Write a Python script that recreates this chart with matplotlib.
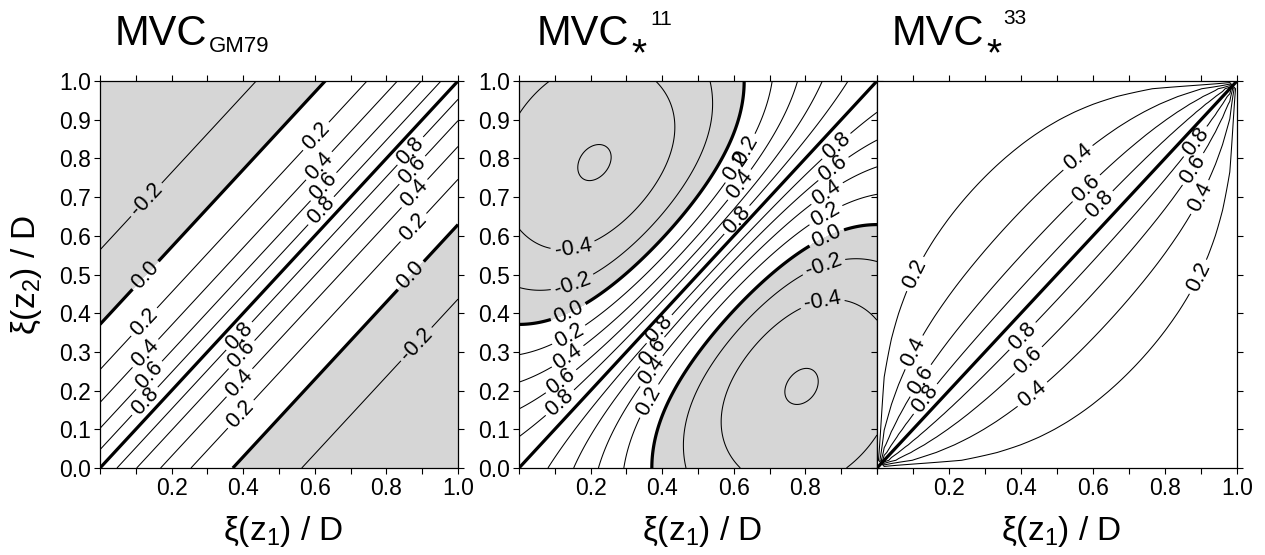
import numpy as np
import matplotlib
matplotlib.use('Agg')
import matplotlib.pyplot as plt

plt.rcParams['font.family'] = ['Liberation Sans', 'DejaVu Sans']
plt.rcParams['mathtext.fontset'] = 'custom'
plt.rcParams['mathtext.rm'] = 'Liberation Sans'
plt.rcParams['mathtext.it'] = 'Liberation Sans'
plt.rcParams['contour.negative_linestyle'] = 'solid'

# ---------------- data ----------------
n_modes = 400                     # number of vertical modes in the sums
j_star = 1.0                      # mode-spectrum bandwidth
levels_gm = [-0.2, 0.0, 0.2, 0.4, 0.6, 0.8]
levels_11 = [-0.58, -0.4, -0.2, 0.0, 0.2, 0.4, 0.6, 0.8]
levels_33 = [0.2, 0.4, 0.6, 0.8]
tick_values = [0.0, 0.1, 0.2, 0.3, 0.4, 0.5, 0.6, 0.7, 0.8, 0.9, 1.0]
xlabels_p1 = ['', '', '0.2', '', '0.4', '', '0.6', '', '0.8', '', '1.0']
xlabels_p2 = ['', '', '0.2', '', '0.4', '', '0.6', '', '0.8', '', '']
ylabels = ['0.0', '0.1', '0.2', '0.3', '0.4', '0.5', '0.6', '0.7', '0.8', '0.9', '1.0']

# ---------------- fields ----------------
n_grid = 401
xi = np.linspace(0.0, 1.0, n_grid)
xi3 = np.linspace(0.0, 1.0, 51)
modes = np.arange(1, n_modes + 1)
H = 1.0 / (modes ** 2 + j_star ** 2)
jj = modes[:, None]

# GM79: depends on separation only; evaluate on all grid separations
lag = np.arange(-(n_grid - 1), n_grid) / (n_grid - 1)
g = (H[:, None] * np.cos(jj * np.pi * lag[None, :])).sum(axis=0) / H.sum()
idx = np.arange(n_grid)
C_gm = g[idx[None, :] - idx[:, None] + (n_grid - 1)]

phi_c = np.cos(jj * np.pi * xi[None, :])
N11 = (phi_c * H[:, None]).T @ phi_c
d11 = np.sqrt(np.diag(N11))
C11 = N11 / np.outer(d11, d11)

phi_s = np.sin(jj * np.pi * xi3[None, :])
N33 = (phi_s * H[:, None]).T @ phi_s
d33 = np.sqrt(np.diag(N33))
with np.errstate(divide='ignore', invalid='ignore'):
    C33 = N33 / np.outer(d33, d33)
edge = (xi3 < 1e-9) | (xi3 > 1 - 1e-9)
C33[edge, :] = 0.0     # boundary limit of the normalised sin-mode sum
C33[:, edge] = 0.0

W, Hh = 1265, 555
fig = plt.figure(figsize=(W / 100, Hh / 100), dpi=100)


def ax_at(x0, x1, y0, y1):
    return fig.add_axes([x0 / W, 1 - y1 / Hh, (x1 - x0) / W, (y1 - y0) / Hh])


ax1 = ax_at(100, 458, 81, 468)
ax2 = ax_at(519, 877, 81, 468)
ax3 = ax_at(877, 1237, 81, 468)

shade = '#d6d6d6'
fmt = lambda v: ('%.1f' % v).replace('-0.0', '0.0')


def draw(ax, gx, C, levels, pos, shaded=True):
    if shaded:
        ax.contourf(gx, gx, C, levels=[-10, 0], colors=[shade])
    lws = [2.3 if abs(l) < 1e-9 else 0.75 for l in levels]
    cs = ax.contour(gx, gx, C, levels=levels, colors='k', linewidths=lws)
    ax.plot(xi, xi, color='k', lw=2.3)
    ax.clabel(cs, manual=pos, inline=True, fmt=fmt, fontsize=15.5, inline_spacing=4)
    ax.set_xlim(0, 1)
    ax.set_ylim(0, 1)


pos1 = [(0.131, 0.692), (0.126, 0.499), (0.126, 0.375), (0.126, 0.297), (0.131, 0.245), (0.131, 0.168),
        (0.606, 0.855), (0.615, 0.778), (0.615, 0.735), (0.615, 0.667),
        (0.866, 0.82), (0.866, 0.775), (0.866, 0.72), (0.874, 0.623), (0.866, 0.499), (0.88, 0.323),
        (0.391, 0.339), (0.391, 0.297), (0.39, 0.22), (0.39, 0.142)]
pos2 = [(0.631, 0.822), (0.623, 0.77), (0.623, 0.727), (0.609, 0.641),
        (0.888, 0.83), (0.874, 0.778), (0.86, 0.71), (0.86, 0.649), (0.86, 0.594), (0.855, 0.512), (0.849, 0.421),
        (0.151, 0.568), (0.151, 0.473), (0.142, 0.395), (0.142, 0.339), (0.137, 0.287), (0.115, 0.227), (0.115, 0.168),
        (0.394, 0.357), (0.366, 0.305), (0.366, 0.253), (0.358, 0.176)]
pos3 = [(0.556, 0.804), (0.578, 0.726), (0.619, 0.68),
        (0.878, 0.848), (0.869, 0.778), (0.897, 0.70), (0.892, 0.494),
        (0.111, 0.499), (0.106, 0.297), (0.119, 0.227), (0.128, 0.183),
        (0.406, 0.339), (0.42, 0.279), (0.433, 0.189)]

draw(ax1, xi, C_gm, levels_gm, pos1)
draw(ax2, xi, C11, levels_11, pos2)
draw(ax3, xi3, C33, levels_33, pos3, shaded=False)

for ax, xl, showy in [(ax1, xlabels_p1, True), (ax2, xlabels_p2, True), (ax3, xlabels_p1, False)]:
    ax.set_xticks(tick_values)
    ax.set_xticklabels(xl)
    ax.set_yticks(tick_values)
    ax.set_yticklabels(ylabels if showy else [''] * len(ylabels))
    ax.tick_params(direction='out', length=4, width=0.8, top=True, right=True,
                   labelsize=16.5, pad=2.5, colors='k')
    for s in ax.spines.values():
        s.set_linewidth(0.9)

# axis labels
xlabel = r'ξ(z$_{\mathregular{1}}$) / D'
ylabel = r'ξ(z$_{\mathregular{2}}$) / D'
for cx in [(100 + 458) / 2 + 4, (519 + 877) / 2 + 4, (877 + 1237) / 2 + 4]:
    fig.text(cx / W, 1 - 540 / Hh, xlabel, fontsize=24, ha='center', va='baseline')
fig.text(27 / W, 1 - 274.5 / Hh, ylabel, fontsize=24, ha='center', va='center', rotation=90)

# titles
def t(x, y, s, size):
    fig.text(x / W, 1 - y / Hh, s, fontsize=size, ha='left', va='baseline')

t(115, 45, 'MVC', 30)
t(209, 52, 'GM79', 16)
t(537, 45, 'MVC', 30)
t(631, 65, '*', 28)
t(650, 25, '11', 15)
t(892, 45, 'MVC', 30)
t(986, 65, '*', 28)
t(1003, 24, '33', 15)

fig.savefig('out.png', dpi=100)
